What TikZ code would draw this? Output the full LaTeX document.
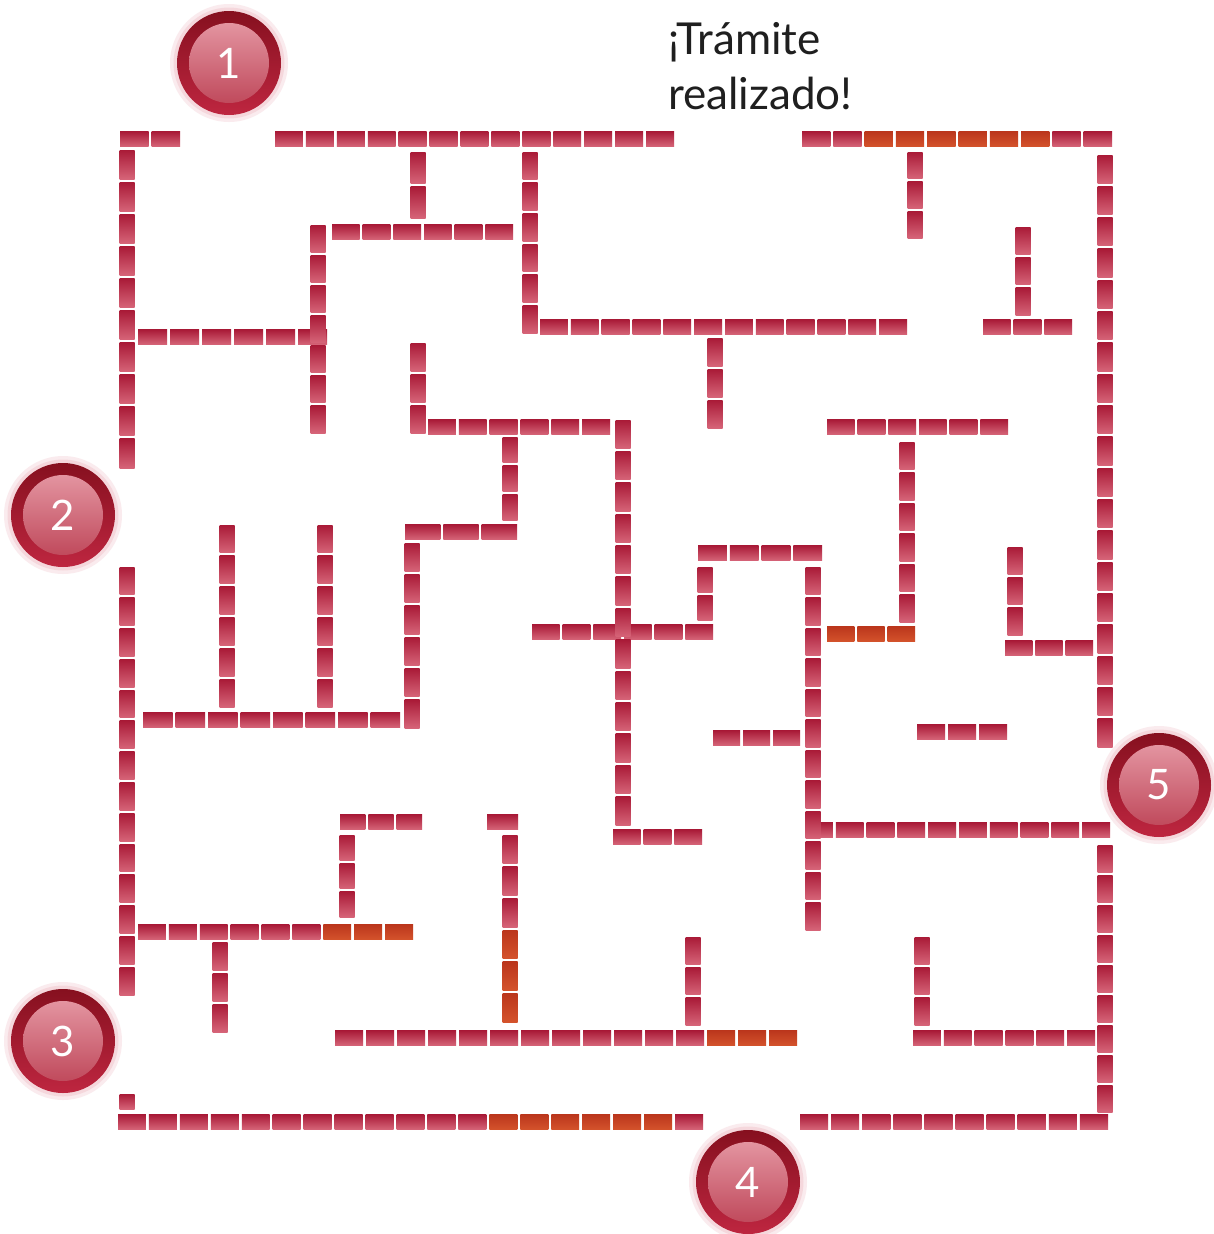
\documentclass[tikz,border=0pt]{standalone}
\usepackage{fontspec}
\setmainfont{Lato}
\definecolor{bricktop}{HTML}{A91A37}
\definecolor{brickbot}{HTML}{D66478}
\definecolor{ortop}{HTML}{BB361C}
\definecolor{orbot}{HTML}{D4532C}
\definecolor{ringtop}{HTML}{86101F}
\definecolor{ringbot}{HTML}{BE2640}
\definecolor{disctop}{HTML}{E394A0}
\definecolor{discbot}{HTML}{C04A5C}
\definecolor{glowc}{HTML}{F0C0C7}
\tikzset{
  redbrick/.style={top color=bricktop,bottom color=brickbot},
  orangebrick/.style={top color=ortop,bottom color=orbot},
  ring/.style={top color=ringtop,bottom color=ringbot},
  disc/.style={top color=disctop,bottom color=discbot},
  numtxt/.style={text=white,font=\fontsize{42}{42}\selectfont,inner sep=0pt},
  goaltxt/.style={text=black!88,font=\fontsize{44}{55}\selectfont,align=left,inner sep=0pt}
}
% horizontal wall: x1,x2,y,n,first orange,last orange
\newcommand\hwall[6]{%
  \pgfmathsetmacro\bl{(#2-#1-(#4-1)*3)/#4}%
  \foreach \i in {1,...,#4}{%
    \pgfmathsetmacro\xa{#1+(\i-1)*(\bl+3)}%
    \ifnum\i<#5\relax\def\bst{redbrick}\else\ifnum\i>#6\relax\def\bst{redbrick}\else\def\bst{orangebrick}\fi\fi
    \edef\tmpshade{\noexpand\shade[\bst]}%
    \tmpshade (\xa,#3-7.5) rectangle ++(\bl,15);}}
% vertical wall: y1,y2,x,n,first orange,last orange
\newcommand\vwall[6]{%
  \pgfmathsetmacro\bl{(#2-#1-(#4-1)*3)/#4}%
  \foreach \i in {1,...,#4}{%
    \pgfmathsetmacro\ya{#1+(\i-1)*(\bl+3)}%
    \ifnum\i<#5\relax\def\bst{redbrick}\else\ifnum\i>#6\relax\def\bst{redbrick}\else\def\bst{orangebrick}\fi\fi
    \edef\tmpshade{\noexpand\shade[\bst]}%
    \tmpshade (#3-7.5,\ya) rectangle ++(15,\bl);}}
\newcommand\badge[4]{%
  \fill[glowc,opacity=0.3] (#2,#3) circle (59);
  \fill[glowc,opacity=0.45] (#2,#3) circle (55.5);
  \shade[ring] (#2,#3) circle (52);
  \shade[disc] (#2,#3) circle (40);
  \node[numtxt] (#1) at (#2,#3) {#4};}
\begin{document}
\begin{tikzpicture}[x=1pt,y=-1pt]
\useasboundingbox (0,0) rectangle (1213,1234);
\fill[white] (0,0) rectangle (1213,1234);
% horizontal walls
\hwall{120}{180}{139}{2}{99}{0}
\hwall{275}{674}{139}{13}{99}{0}
\hwall{802}{1112}{139}{10}{3}{8}
\hwall{332}{513}{232}{6}{99}{0}
\hwall{138}{327}{337}{6}{99}{0}
\hwall{540}{907}{327}{12}{99}{0}
\hwall{983}{1072}{327}{3}{99}{0}
\hwall{428}{610}{427}{6}{99}{0}
\hwall{827}{1008}{427}{6}{99}{0}
\hwall{405}{517}{532}{3}{99}{0}
\hwall{698}{822}{553}{4}{99}{0}
\hwall{532}{713}{632}{6}{99}{0}
\hwall{827}{915}{634}{3}{1}{3}
\hwall{1005}{1093}{648}{3}{99}{0}
\hwall{143}{400}{720}{8}{99}{0}
\hwall{713}{800}{738}{3}{99}{0}
\hwall{917}{1007}{732}{3}{99}{0}
\hwall{805}{1110}{830}{10}{99}{0}
\hwall{340}{422}{822}{3}{99}{0}
\hwall{487}{518}{822}{1}{99}{0}
\hwall{613}{702}{837}{3}{99}{0}
\hwall{138}{413}{932}{9}{7}{9}
\hwall{335}{797}{1038}{15}{13}{15}
\hwall{913}{1095}{1038}{6}{99}{0}
\hwall{118}{703}{1122}{19}{13}{18}
\hwall{800}{1108}{1122}{10}{99}{0}
% vertical walls
\vwall{150}{468}{127}{10}{99}{0}
\vwall{567}{995}{127}{14}{99}{0}
\vwall{1094}{1109}{127}{1}{99}{0}
\vwall{152}{218}{418}{2}{99}{0}
\vwall{152}{333}{530}{6}{99}{0}
\vwall{225}{433}{318}{7}{99}{0}
\vwall{343}{433}{418}{3}{99}{0}
\vwall{152}{238}{915}{3}{99}{0}
\vwall{227}{315}{1023}{3}{99}{0}
\vwall{155}{747}{1105}{19}{99}{0}
\vwall{338}{428}{715}{3}{99}{0}
\vwall{420}{825}{623}{13}{99}{0}
\vwall{437}{520}{510}{3}{99}{0}
\vwall{442}{622}{907}{6}{99}{0}
\vwall{543}{728}{412}{6}{99}{0}
\vwall{525}{707}{227}{6}{99}{0}
\vwall{525}{707}{325}{6}{99}{0}
\vwall{567}{620}{705}{2}{99}{0}
\vwall{567}{930}{813}{12}{99}{0}
\vwall{547}{635}{1015}{3}{99}{0}
\vwall{845}{1112}{1105}{9}{99}{0}
\vwall{835}{917}{347}{3}{99}{0}
\vwall{942}{1032}{220}{3}{99}{0}
\vwall{835}{1022}{510}{6}{4}{6}
\vwall{937}{1025}{693}{3}{99}{0}
\vwall{937}{1025}{922}{3}{99}{0}
% badges
\badge{c1}{229}{63}{1}
\badge{c2}{63}{515}{2}
\badge{c3}{63}{1041}{3}
\badge{c4}{748}{1182}{4}
\badge{c5}{1159}{785}{5}
% goal text
\node[goaltxt,anchor=north west] (goal) at (668,22) {¡Trámite\\realizado!};
\end{tikzpicture}
\end{document}
